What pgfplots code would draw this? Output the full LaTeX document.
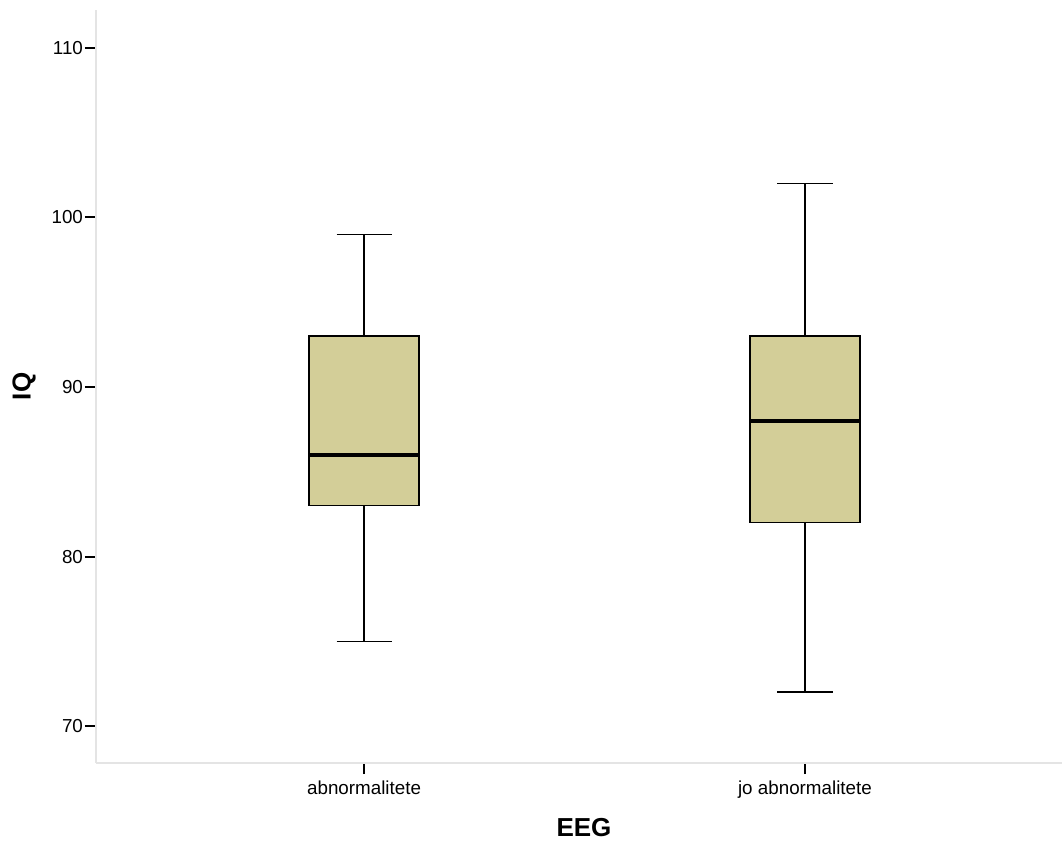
\documentclass[border=0pt]{standalone}
\usepackage{fontspec}
\setmainfont{Liberation Sans}
\usepackage{pgfplots}
\pgfplotsset{compat=1.18}
\usepgfplotslibrary{statistics}
\definecolor{boxfill}{RGB}{211,206,152}
\definecolor{axgray}{RGB}{228,228,228}
\begin{document}
\begin{tikzpicture}
\begin{axis}[
  anchor=south west, at={(0pt,0pt)},
  scale only axis,
  width=483pt, height=376.5pt,
  xmin=-6.08, xmax=15.83,
  ymin=67.82, ymax=112.24,
  axis lines*=left,
  axis line style={draw=axgray, line width=0.8pt},
  xtick={0,10},
  xticklabels={abnormalitete, jo abnormalitete},
  ytick={70,80,90,100,110},
  tick align=outside,
  major tick length=5.5pt,
  tick style={black, line width=1pt},
  /pgf/number format/assume math mode=true,
  tick label style={font=\fontsize{9.4}{11}\selectfont},
  xticklabel style={yshift=0pt},
  yticklabel style={xshift=2.5pt},
  xlabel={EEG},
  ylabel={IQ},
  xlabel style={font=\fontsize{13}{15}\selectfont\bfseries, at={(axis description cs:0.5,0)}, anchor=center, yshift=-32.5pt, xshift=2.5pt},
  ylabel style={font=\fontsize{13}{15}\selectfont\bfseries, at={(axis description cs:-0.0745,0.5)}, anchor=center},
  clip=false,
  boxplot/draw direction=y,
  boxplot/box extend=2.5,
  boxplot/whisker extend=1.25,
  boxplot/every box/.style={draw=black, fill=boxfill, line width=0.75pt},
  boxplot/every whisker/.style={draw=black, line width=0.75pt},
  boxplot/every median/.style={draw=black, line width=2.2pt},
]
\addplot[boxplot prepared={median=86, upper quartile=93, lower quartile=83, upper whisker=99, lower whisker=75, draw position=0}] coordinates {};
\addplot[boxplot prepared={median=88, upper quartile=93, lower quartile=82, upper whisker=102, lower whisker=72, draw position=10}] coordinates {};
\end{axis}
\pgfresetboundingbox
\path (-48pt,-40pt) rectangle (483pt,381.5pt);
\end{tikzpicture}
\end{document}
